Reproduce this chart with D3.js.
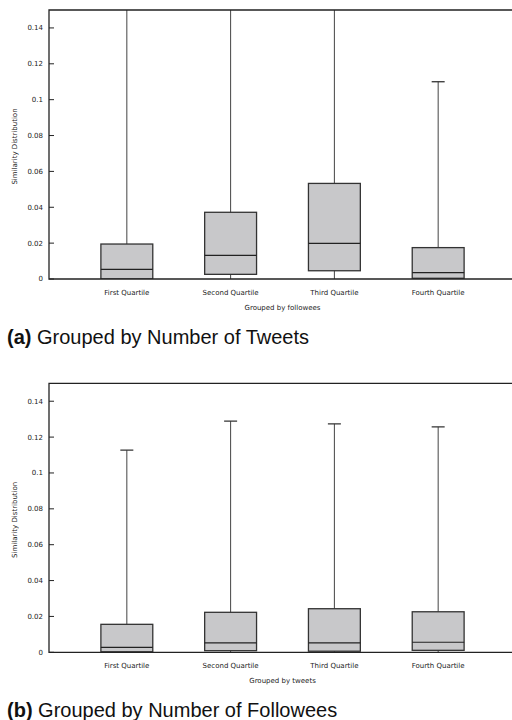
<!DOCTYPE html>
<html lang='en'>
<head>
    <meta charset='UTF-8'>
    <title></title>
    <script src="https://cdn.jsdelivr.net/npm/d3@7/dist/d3.min.js"></script>
    <style>
        body { margin: 0; background: #fff; }
    </style>
</head>
<body>
    <svg class="box-svg"></svg>
</body>
<script>
    // categories and box values
    const categories = ['First Quartile', 'Second Quartile', 'Third Quartile', 'Fourth Quartile'];

    // (a) grouped by number of tweets (upper whiskers of the first three run off the top)
    const tweetsLow    = [0, 0, 0, 0];
    const tweetsQ1     = [0, 0.0026, 0.0046, 0.0004];
    const tweetsMedian = [0.0054, 0.0132, 0.0199, 0.0035];
    const tweetsQ3     = [0.0195, 0.0372, 0.0533, 0.0175];
    const tweetsHigh   = [0.16, 0.16, 0.16, 0.110];

    // (b) grouped by number of followees
    const followLow    = [0, 0, 0, 0];
    const followQ1     = [0.0003, 0.0009, 0.0006, 0.0011];
    const followMedian = [0.0028, 0.0053, 0.0052, 0.0056];
    const followQ3     = [0.0156, 0.0223, 0.0243, 0.0226];
    const followHigh   = [0.1127, 0.1289, 0.1274, 0.1257];

    const yTicks = [0, 0.02, 0.04, 0.06, 0.08, 0.1, 0.12, 0.14];

    const width = 512, height = 720;
    const svg = d3.select('.box-svg')
        .attr('width', width)
        .attr('height', height);

    const left = 49, right = 516, plotH = 269;
    const x = d3.scalePoint().domain(categories).range([left, right]).padding(0.75);
    const boxW = x.step() * 0.5;
    const smallFont = 'DejaVu Sans, sans-serif';

    function panel(id, top, low, q1, med, q3, high, xTitle, tag, caption) {
        const y = d3.scaleLinear().domain([0, 0.15]).range([top + plotH, top]);
        const rows = categories.map((c, i) => ({c, low: low[i], q1: q1[i], med: med[i], q3: q3[i], high: high[i]}));

        svg.append('clipPath').attr('id', id)
            .append('rect').attr('x', left).attr('y', top).attr('width', right - left).attr('height', plotH);

        const g = svg.append('g');
        const plot = g.append('g').attr('clip-path', `url(#${id})`);

        // whiskers
        plot.selectAll('.whisk').data(rows).enter().append('line')
            .attr('x1', d => x(d.c)).attr('x2', d => x(d.c))
            .attr('y1', d => y(d.low)).attr('y2', d => y(d.high))
            .attr('stroke', '#444').attr('stroke-width', 1);
        plot.selectAll('.cap').data(rows).enter().append('line')
            .attr('x1', d => x(d.c) - 6.5).attr('x2', d => x(d.c) + 6.5)
            .attr('y1', d => y(d.high)).attr('y2', d => y(d.high))
            .attr('stroke', '#333').attr('stroke-width', 1.3);

        // boxes
        plot.selectAll('.box').data(rows).enter().append('rect')
            .attr('x', d => x(d.c) - boxW / 2)
            .attr('width', boxW)
            .attr('y', d => y(d.q3))
            .attr('height', d => y(d.q1) - y(d.q3))
            .attr('fill', '#c8c8ca')
            .attr('stroke', '#333').attr('stroke-width', 1.3);
        plot.selectAll('.med').data(rows).enter().append('line')
            .attr('x1', d => x(d.c) - boxW / 2).attr('x2', d => x(d.c) + boxW / 2)
            .attr('y1', d => y(d.med)).attr('y2', d => y(d.med))
            .attr('stroke', '#222').attr('stroke-width', 1.2);

        // frame: left, top, bottom
        g.append('path')
            .attr('d', `M${right},${top}H${left}V${top + plotH}H${right}`)
            .attr('fill', 'none').attr('stroke', '#222').attr('stroke-width', 1.3);

        // y ticks
        g.selectAll('.yt').data(yTicks).enter().append('line')
            .attr('x1', left).attr('x2', left + 5)
            .attr('y1', d => y(d)).attr('y2', d => y(d))
            .attr('stroke', '#222').attr('stroke-width', 1);
        g.selectAll('.yl').data(yTicks).enter().append('text')
            .text(d => d3.format('~g')(d))
            .attr('x', left - 6).attr('y', d => y(d)).attr('dy', '0.35em')
            .attr('text-anchor', 'end')
            .style('font-family', smallFont).style('font-size', '7px').attr('fill', '#222');

        // x labels
        g.selectAll('.xl').data(categories).enter().append('text')
            .text(d => d)
            .attr('x', d => x(d)).attr('y', top + plotH + 15.5)
            .attr('text-anchor', 'middle')
            .style('font-family', smallFont).style('font-size', '7px').attr('fill', '#222');

        g.append('text').text(xTitle)
            .attr('x', (left + right) / 2).attr('y', top + plotH + 30.5)
            .attr('text-anchor', 'middle')
            .style('font-family', smallFont).style('font-size', '7px').attr('fill', '#222');

        g.append('text').text('Similarity Distribution')
            .attr('transform', `translate(17, ${top + plotH / 2 + 2}) rotate(-90)`)
            .attr('text-anchor', 'middle')
            .style('font-family', smallFont).style('font-size', '7px').attr('fill', '#222');

        // caption
        const cap = svg.append('text')
            .attr('x', 7).attr('y', top + plotH + 65)
            .style('font-family', 'Liberation Sans, Arial, sans-serif').style('font-size', '20px').attr('fill', '#111');
        cap.append('tspan').text(tag).style('font-weight', 'bold');
        cap.append('tspan').text(' ' + caption);
    }

    panel('clipA', 10, tweetsLow, tweetsQ1, tweetsMedian, tweetsQ3, tweetsHigh,
        'Grouped by followees', '(a)', 'Grouped by Number of Tweets');
    panel('clipB', 383.3, followLow, followQ1, followMedian, followQ3, followHigh,
        'Grouped by tweets', '(b)', 'Grouped by Number of Followees');
</script>
</html>
